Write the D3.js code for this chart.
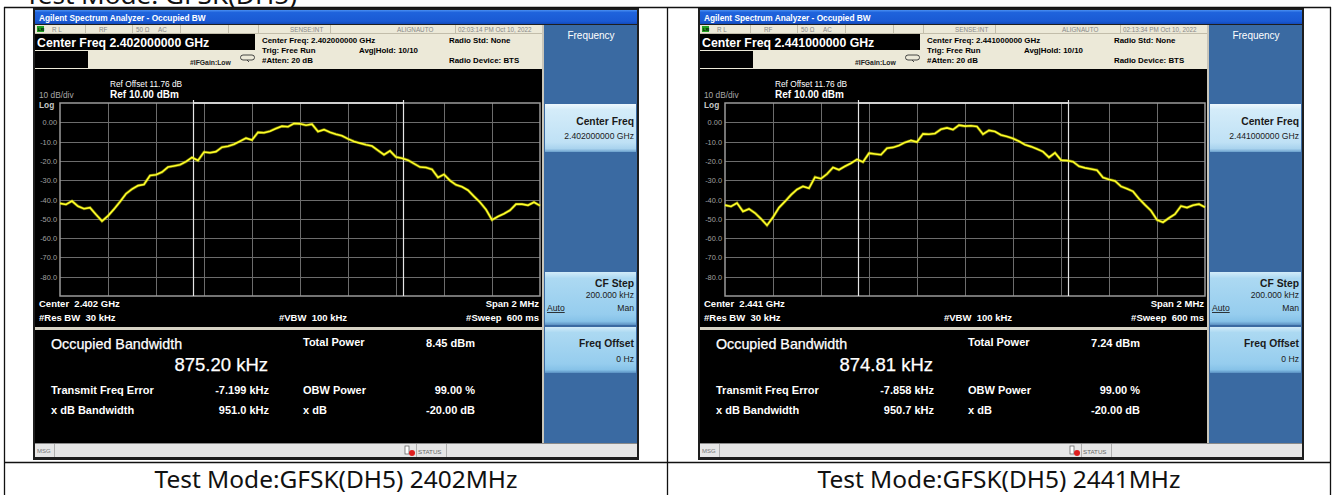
<!DOCTYPE html>
<html><head><meta charset="utf-8">
<script src="https://cdn.jsdelivr.net/npm/d3@7"></script>
<style>body{margin:0;background:#fff}text{white-space:pre}</style>
</head><body><svg id="c" width="1334" height="495"></svg>
<script>
// ---------------- data ----------------
const freqOffsetsKHz = [-1000,-975,-950,-925,-900,-875,-850,-825,-800,-775,-750,-725,-700,-675,-650,-625,-600,-575,-550,-525,-500,-475,-450,-425,-400,-375,-350,-325,-300,-275,-250,-225,-200,-175,-150,-125,-100,-75,-50,-25,0,25,50,75,100,125,150,175,200,225,250,275,300,325,350,375,400,425,450,475,500,525,550,575,600,625,650,675,700,725,750,775,800,825,850,875,900,925,950,975,1000];
const trace2402 = [-42.0,-42.6,-40.8,-43.5,-44.8,-44.2,-47.8,-51.2,-48.5,-45.0,-41.2,-37.0,-34.6,-32.8,-32.2,-27.6,-27.2,-25.8,-23.2,-22.6,-22.0,-20.4,-18.2,-19.8,-15.4,-15.8,-15.2,-12.9,-12.4,-11.4,-9.8,-8.2,-9.2,-5.2,-5.4,-4.6,-3.2,-2.0,-2.3,-0.6,-0.8,-1.5,-1.0,-4.8,-3.8,-5.2,-6.2,-7.0,-8.6,-9.9,-10.8,-11.6,-12.3,-14.6,-16.8,-14.8,-18.0,-18.6,-19.6,-21.4,-23.2,-23.4,-24.4,-28.6,-27.0,-30.2,-32.4,-33.4,-35.2,-38.4,-41.4,-45.2,-50.6,-48.8,-47.4,-45.6,-42.4,-42.4,-43.0,-41.4,-43.2];
const trace2441 = [-42.9,-43.6,-41.8,-46.2,-44.9,-47.0,-50.0,-53.4,-49.2,-44.2,-41.0,-37.6,-34.8,-33.2,-34.2,-28.4,-29.2,-26.8,-23.4,-24.6,-22.8,-21.2,-19.2,-20.6,-16.0,-16.4,-16.8,-13.4,-13.0,-12.0,-10.4,-9.4,-10.2,-6.0,-6.2,-5.8,-3.6,-2.9,-3.8,-1.5,-2.0,-1.8,-2.2,-6.2,-4.2,-4.8,-6.6,-7.4,-8.4,-9.8,-11.6,-12.6,-13.8,-15.2,-18.2,-15.8,-19.6,-19.8,-20.4,-22.8,-23.6,-24.2,-24.8,-28.6,-29.6,-30.4,-33.2,-34.4,-35.8,-39.6,-42.8,-45.8,-50.6,-51.8,-49.6,-47.6,-43.4,-44.2,-43.0,-42.4,-44.0];
const yTickValues = [0,-10,-20,-30,-40,-50,-60,-70,-80];
const yTickLabels = ["0.00","-10.0","-20.0","-30.0","-40.0","-50.0","-60.0","-70.0","-80.0"];
const xGridKHz = [-800,-600,-400,-200,0,200,400,600,800];
const centerFreqLong = ["2.402000000","2.441000000"];
const centerFreqShort = ["2.402","2.441"];
const timestamps = ["02:03:14 PM Oct 10, 2022","02:13:34 PM Oct 10, 2022"];
const obwKHz = [875.20, 874.81];
const obwLabels = ["875.20 kHz","874.81 kHz"];
const totalPower = ["8.45 dBm","7.24 dBm"];
const freqErrorKHz = [-7.199, -7.858];
const freqErrorLabels = ["-7.199 kHz","-7.858 kHz"];
const xdbBandwidth = ["951.0 kHz","950.7 kHz"];
const captions = ["Test Mode:GFSK(DH5) 2402MHz","Test Mode:GFSK(DH5) 2441MHz"];
const traces = [trace2402, trace2441];
const panelOffsets = [0, 665];

// ---------------- drawing ----------------
const svg = d3.select("#c");
const defs = svg.append("defs");
function grad(id, stops){
  const lg = defs.append("linearGradient").attr("id",id).attr("x1",0).attr("y1",0).attr("x2",0).attr("y2",1);
  stops.forEach(s=>lg.append("stop").attr("offset",s[0]).attr("stop-color",s[1]));
}
grad("tbar",[[0,"#4a8ff2"],[0.18,"#1f63dc"],[0.8,"#1a5ad4"],[1,"#124aba"]]);
grad("btnA",[[0,"#eef8fd"],[0.12,"#d4ecf9"],[0.8,"#bfe1f5"],[0.93,"#a9d3ee"],[1,"#6a9fcc"]]);
grad("btnB",[[0,"#d2ecf9"],[0.12,"#acd9f2"],[0.8,"#96cdee"],[0.93,"#86c2e8"],[1,"#5a90c2"]]);

svg.append("rect").attr("width",1334).attr("height",495).attr("fill","#fff");

const UI = "'Liberation Sans', Arial, sans-serif";
const CAP = "'Noto Sans', 'Open Sans', sans-serif";

// top cut-off heading (cut by the page edge as in the reference)
svg.append("text").attr("x",25).attr("y",3.5).attr("font-family",CAP).attr("font-size",23)
  .attr("textLength",272).attr("lengthAdjust","spacingAndGlyphs").attr("fill","#111")
  .text("Test Mode: GFSK(DH5)");

function drawPanel(i){
  const g = svg.append("g").attr("transform",`translate(${panelOffsets[i]},0)`);
  const txt = (x,y,s,o={}) => g.append("text").attr("x",x).attr("y",y).text(s)
      .attr("font-family",UI).attr("font-size",o.size||8)
      .attr("font-weight",o.bold?"bold":"normal").attr("fill",o.fill||"#000")
      .attr("text-anchor",o.anchor||"start");
  const rect = (x,y,w,h,fill) => g.append("rect").attr("x",x).attr("y",y).attr("width",w).attr("height",h).attr("fill",fill);
  const line = (x1,y1,x2,y2,c,w) => g.append("line").attr("x1",x1).attr("y1",y1).attr("x2",x2).attr("y2",y2).attr("stroke",c).attr("stroke-width",w||1);

  // frame + title bar
  rect(33,8,606,452,"#1e1e1e");
  rect(35,10,602,14,"url(#tbar)");
  txt(39,20.5,"Agilent Spectrum Analyzer - Occupied BW",{size:8.3,bold:true,fill:"#fff"});

  // header (beige)
  rect(35,25,507,44,"#ece9d8");
  [85,132,180,228,258,330,455].forEach(x=>line(x+0.5,25,x+0.5,33,"#c2bdaa"));
  line(35,33.5,542,33.5,"#c2bdaa");
  rect(37,26,7,6,"#22a022");
  txt(38,31.3,"LXI",{size:4,bold:true,fill:"#000"});
  txt(52,31.5,"R L",{size:6.3,fill:"#888"});
  txt(99,31.5,"RF",{size:6.3,fill:"#888"});
  txt(136,31.5,"50 Ω",{size:6.3,fill:"#888"});
  txt(158,31.5,"AC",{size:6.3,fill:"#888"});
  txt(290,31.5,"SENSE:INT",{size:6.3,fill:"#888"});
  txt(397,31.5,"ALIGNAUTO",{size:6.3,fill:"#888"});
  txt(458,31.5,timestamps[i],{size:6.3,fill:"#888"});

  rect(35,34,220,16,"#000");
  txt(37,47,`Center Freq ${centerFreqLong[i]} GHz`,{size:12.3,bold:true,fill:"#fff"});
  rect(35,51,53,17,"#000");
  txt(190,64.5,"#IFGain:Low",{size:6.8,bold:true,fill:"#222"});
  g.append("path").attr("d","M243,55 h9 a2.5,2.5 0 0 1 0,5 h-9 a2.5,2.5 0 0 1 0,-5 M247,60 l2,2").attr("fill","none").attr("stroke","#333").attr("stroke-width",0.9);
  txt(262,43,`Center Freq: ${centerFreqLong[i]} GHz`,{size:7.9,bold:true});
  txt(262,53,"Trig: Free Run",{size:7.9,bold:true});
  txt(262,63,"#Atten: 20 dB",{size:7.9,bold:true});
  txt(359,53,"Avg|Hold: 10/10",{size:7.9,bold:true});
  txt(449,43,"Radio Std: None",{size:7.9,bold:true});
  txt(449,63,"Radio Device: BTS",{size:7.9,bold:true});

  // graph panel
  rect(35,69,507,258,"#000");
  txt(110,87,"Ref Offset 11.76 dB",{size:8.3,fill:"#fff"});
  txt(110,97.5,"Ref 10.00 dBm",{size:10,bold:true,fill:"#fff"});
  txt(39,98,"10 dB/div",{size:8.3,fill:"#a8a8a8"});
  txt(39,108,"Log",{size:8.3,bold:true,fill:"#c8c8c8"});

  const x = d3.scaleLinear().domain([-1000,1000]).range([60,540]);
  const y = d3.scaleLinear().domain([-90,10]).range([296,103]);
  xGridKHz.forEach(v=>line(x(v)+0.5,y(10),x(v)+0.5,y(-90),"#6c6c6c"));
  yTickValues.concat([-90+10]).forEach(v=>line(x(-1000),Math.round(y(v))+0.5,x(1000),Math.round(y(v))+0.5,"#6c6c6c"));
  g.append("rect").attr("x",x(-1000)).attr("y",y(10)).attr("width",x(1000)-x(-1000)).attr("height",y(-90)-y(10))
    .attr("fill","none").attr("stroke","#9a9a9a").attr("stroke-width",1.5);
  yTickValues.forEach((v,k)=>txt(57,Math.round(y(v))+3,yTickLabels[k],{size:7.4,fill:"#a0a0a0",anchor:"end"}));

  // OBW markers
  const lo = freqErrorKHz[i] - obwKHz[i]/2, hi = freqErrorKHz[i] + obwKHz[i]/2;
  [lo,hi].forEach(v=>line(Math.round(x(v))+0.5,y(10)-3,Math.round(x(v))+0.5,y(-90),"#e6e6e6",1.2));
  line(x(lo),y(10),x(hi),y(10),"#eeeeee",1.5);

  // trace
  const gen = d3.line().x((d,j)=>x(freqOffsetsKHz[j])).y(d=>y(d));
  g.append("path").attr("d",gen(traces[i])).attr("fill","none").attr("stroke","#c8c800").attr("stroke-width",3).attr("opacity",0.5);
  g.append("path").attr("d",gen(traces[i])).attr("fill","none").attr("stroke","#ffff2a").attr("stroke-width",1.6);

  txt(39,307,`Center  ${centerFreqShort[i]} GHz`,{size:9.5,bold:true,fill:"#fff"});
  txt(39,321,"#Res BW  30 kHz",{size:9.5,bold:true,fill:"#fff"});
  txt(279,321,"#VBW  100 kHz",{size:9.5,bold:true,fill:"#fff"});
  txt(539,307,"Span 2 MHz",{size:9.5,bold:true,fill:"#fff",anchor:"end"});
  txt(539,321,"#Sweep  600 ms",{size:9.5,bold:true,fill:"#fff",anchor:"end"});

  // separator + results
  rect(35,327,507,3,"#d6d2c4");
  rect(35,330,507,113,"#000");
  txt(51,349,"Occupied Bandwidth",{size:14.3,fill:"#fff"}).attr("stroke","#fff").attr("stroke-width",0.25);
  txt(268,371,obwLabels[i],{size:18.5,fill:"#fff",anchor:"end"}).attr("stroke","#fff").attr("stroke-width",0.25);
  txt(51,394,"Transmit Freq Error",{size:11,bold:true,fill:"#fff"});
  txt(269,394,freqErrorLabels[i],{size:11,bold:true,fill:"#fff",anchor:"end"});
  txt(51,414,"x dB Bandwidth",{size:11,bold:true,fill:"#fff"});
  txt(269,414,xdbBandwidth[i],{size:11,bold:true,fill:"#fff",anchor:"end"});
  txt(303,346,"Total Power",{size:11,bold:true,fill:"#fff"});
  txt(475,347,totalPower[i],{size:11,bold:true,fill:"#fff",anchor:"end"});
  txt(303,394,"OBW Power",{size:11,bold:true,fill:"#fff"});
  txt(475,394,"99.00 %",{size:11,bold:true,fill:"#fff",anchor:"end"});
  txt(303,414,"x dB",{size:11,bold:true,fill:"#fff"});
  txt(475,414,"-20.00 dB",{size:11,bold:true,fill:"#fff",anchor:"end"});

  // softkey panel
  rect(542,25,2,418,"#c9c6ba");
  rect(544,25,93,418,"#3a6aa2");
  txt(591,39,"Frequency",{size:10,fill:"#fff",anchor:"middle"});
  rect(545,104,91,48,"url(#btnA)");
  txt(634,125,"Center Freq",{size:10.3,bold:true,fill:"#1a1a1a",anchor:"end"});
  txt(634,139,`${centerFreqLong[i]} GHz`,{size:8.6,fill:"#1a1a1a",anchor:"end"});
  rect(545,272,91,53,"url(#btnB)");
  txt(634,287,"CF Step",{size:10.3,bold:true,fill:"#1a1a1a",anchor:"end"});
  txt(634,298,"200.000 kHz",{size:8.6,fill:"#1a1a1a",anchor:"end"});
  txt(547,311,"Auto",{size:8.6,fill:"#1a1a1a"}).attr("text-decoration","underline");
  txt(634,311,"Man",{size:8.6,fill:"#1a1a1a",anchor:"end"});
  rect(545,327,91,46,"url(#btnB)");
  txt(634,347,"Freq Offset",{size:10.3,bold:true,fill:"#1a1a1a",anchor:"end"});
  txt(634,362,"0 Hz",{size:8.6,fill:"#1a1a1a",anchor:"end"});

  // message bar
  rect(35,443,602,1,"#8a8a8a");
  rect(35,444,602,13,"#e6e6e6");
  line(54.5,444,54.5,457,"#b0b0b0");
  line(416.5,444,416.5,457,"#b0b0b0");
  line(446.5,444,446.5,457,"#b0b0b0");
  txt(37,453,"MSG",{size:6,fill:"#777"});
  rect(405,446,4,8,"#fff").attr("stroke","#555").attr("stroke-width",0.7);
  g.append("circle").attr("cx",412).attr("cy",453).attr("r",3).attr("fill","#e02020");
  txt(418,453.5,"STATUS",{size:6.2,fill:"#666"});
}
drawPanel(0);
drawPanel(1);

// table lines
const T = svg.append("g").attr("stroke","#111").attr("stroke-width",1.3);
T.append("line").attr("x1",4).attr("y1",7.5).attr("x2",1331).attr("y2",7.5);
T.append("line").attr("x1",4.5).attr("y1",7).attr("x2",4.5).attr("y2",495);
T.append("line").attr("x1",667.5).attr("y1",7).attr("x2",667.5).attr("y2",495);
T.append("line").attr("x1",1330.5).attr("y1",7).attr("x2",1330.5).attr("y2",495);
T.append("line").attr("x1",4).attr("y1",462.5).attr("x2",1331).attr("y2",462.5);

[336,999].forEach((cx,i)=>{
  svg.append("text").attr("x",cx).attr("y",488).attr("text-anchor","middle")
    .attr("font-family",CAP).attr("font-size",23).attr("fill","#111")
    .attr("textLength",363).attr("lengthAdjust","spacingAndGlyphs").text(captions[i]);
});
</script>
</body></html>
